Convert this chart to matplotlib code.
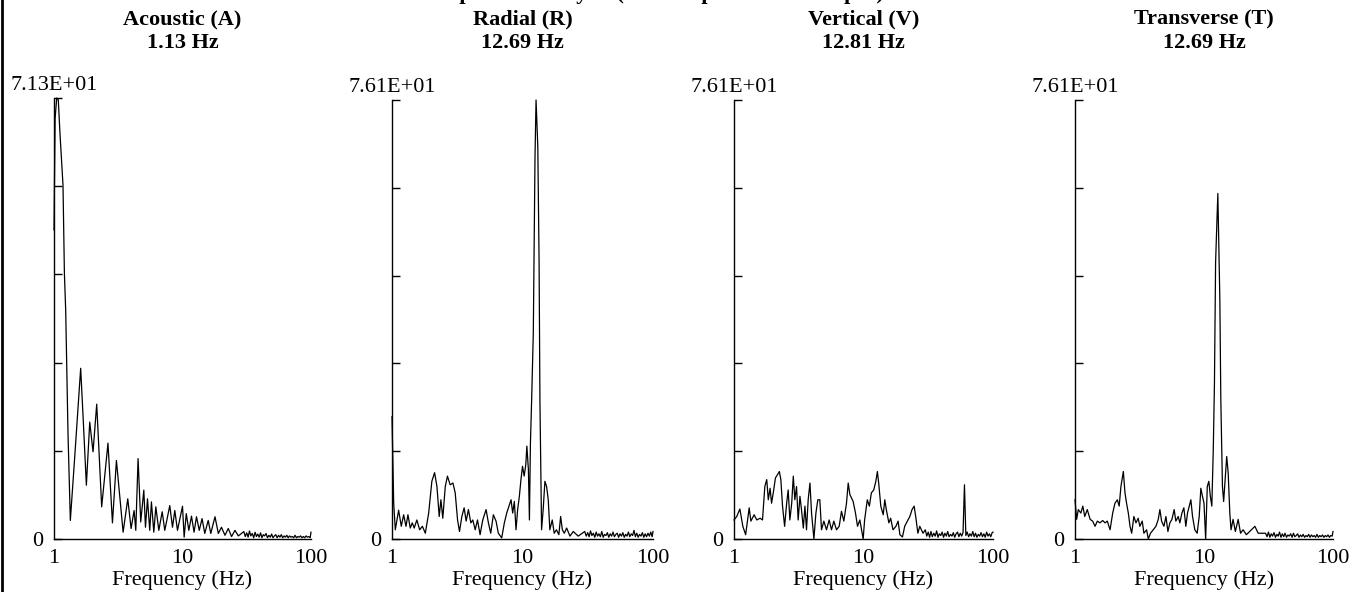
#!/usr/bin/env python3
# -*- coding: utf-8 -*-
# spectra of the four channels, log frequency axis
import numpy as np
import matplotlib
matplotlib.use('Agg')
import matplotlib.pyplot as plt
from matplotlib.lines import Line2D
from matplotlib.ticker import NullLocator

plt.rcParams['font.family'] = 'serif'
plt.rcParams['font.serif'] = ['Liberation Serif', 'DejaVu Serif']
plt.rcParams['font.size'] = 16

# ---- data ----
titles = ['Acoustic (A)', 'Radial (R)', 'Vertical (V)', 'Transverse (T)']
peak_labels = ['1.13 Hz', '12.69 Hz', '12.81 Hz', '12.69 Hz']
y_max = [71.3, 76.1, 76.1, 76.1]
y_top_labels = ['7.13E+01', '7.61E+01', '7.61E+01', '7.61E+01']
x_ticks = [1, 10, 100]
x_tick_labels = ['1', '10', '100']

# 1 - ~28 Hz, read point by point
freq_a = [1.0, 1.02, 1.05, 1.08, 1.11, 1.175, 1.205, 1.233, 1.285, 1.34,
          1.45, 1.613, 1.70, 1.786, 1.897, 2.013, 2.15, 2.35, 2.63, 2.85,
          3.06, 3.45, 3.75, 3.98, 4.2, 4.33, 4.51, 4.73, 5.0, 5.15,
          5.34, 5.56, 5.73, 5.98, 6.2, 6.54, 6.95, 7.28, 7.96, 8.36,
          8.71, 9.14, 10.0, 10.3, 10.7, 11.2, 11.75, 12.3, 12.85, 13.5,
          14.2, 14.9, 15.85, 16.6, 17.9, 19.0, 20.1, 21.4, 22.7, 24.1,
          25.6, 27.2]
amp_a = [50, 68, 71.3, 71.0, 66, 57.2, 42.9, 37, 17.1, 3.0,
         13.3, 27.6, 18, 8.7, 18.9, 14.1, 21.8, 5.2, 15.5, 2.6,
         12.7, 1.1, 6.5, 1.7, 4.6, 1.4, 13.0, 2.75, 7.9, 1.9,
         6.5, 1.4, 6.0, 1.1, 5.2, 1.4, 4.4, 1.4, 5.4, 1.9,
         4.6, 1.4, 5.3, 0.3, 4.1, 1.4, 3.7, 1.1, 3.6, 1.4,
         3.3, 0.9, 3.0, 0.9, 3.6, 0.9, 1.9, 0.6, 1.7, 0.4,
         1.4, 0.5]

freq_r = [1.0, 1.03, 1.06, 1.124, 1.178, 1.228, 1.28, 1.325, 1.38, 1.43,
          1.48, 1.55, 1.63, 1.71, 1.80, 1.91, 2.02, 2.12, 2.21, 2.30,
          2.37, 2.45, 2.56, 2.66, 2.79, 2.93, 3.05, 3.18, 3.29, 3.43,
          3.57, 3.70, 3.85, 4.02, 4.16, 4.34, 4.52, 4.73, 4.96, 5.26,
          5.48, 5.71, 5.98, 6.27, 6.53, 6.93, 7.26, 7.57, 7.88, 8.17,
          8.41, 8.66, 8.92, 9.18, 9.46, 9.73, 10.0, 10.3, 10.6, 10.8,
          11.1, 11.3, 11.5, 11.75, 12.1, 12.47, 12.7, 13.1, 13.4, 13.6,
          14.0, 14.4, 14.85, 15.3, 15.75, 16.2, 16.9, 17.5, 18.2, 19.0,
          19.6, 20.2, 20.9, 21.8, 23.1, 24.5, 26.7]
amp_r = [21.2, 6.2, 1.6, 5.0, 2.2, 4.2, 2.2, 4.2, 1.9, 2.8,
         1.9, 3.3, 1.6, 2.2, 1.0, 4.5, 10.0, 11.5, 9.1, 3.9,
         6.8, 3.6, 9.1, 10.9, 9.4, 9.7, 8.0, 3.3, 1.3, 3.9,
         5.4, 3.1, 5.1, 2.8, 3.3, 1.6, 3.3, 0.75, 3.3, 5.1,
         2.8, 1.0, 4.2, 3.1, 1.0, 0.2, 2.8, 4.5, 5.7, 6.8,
         4.5, 6.5, 1.6, 5.1, 7.4, 10.3, 12.6, 10.9, 12.9, 16.1,
         12.0, 3.3, 16.6, 24.1, 35.7, 66.3, 76.1, 68, 48, 24.1,
         1.6, 5.1, 10.0, 9.1, 6.8, 1.6, 3.3, 1.0, 1.6, 0.75,
         3.9, 1.6, 1.0, 1.9, 0.5, 1.3, 0.5]

freq_v = [1.0, 1.05, 1.11, 1.17, 1.23, 1.31, 1.35, 1.43, 1.50, 1.59,
          1.66, 1.73, 1.79, 1.84, 1.90, 1.95, 2.01, 2.09, 2.16, 2.24,
          2.30, 2.37, 2.46, 2.55, 2.62, 2.70, 2.79, 2.87, 2.95, 3.04,
          3.13, 3.23, 3.32, 3.43, 3.53, 3.63, 3.74, 3.86, 3.97, 4.14,
          4.29, 4.44, 4.60, 4.74, 4.94, 5.18, 5.43, 5.66, 5.90, 6.19,
          6.49, 6.76, 7.05, 7.39, 7.62, 7.85, 8.08, 8.32, 8.67, 8.99,
          9.37, 9.66, 9.94, 10.2, 10.7, 11.1, 11.5, 12.0, 12.45, 12.8,
          13.1, 13.6, 14.2, 14.6, 15.0, 15.7, 16.2, 16.9, 17.8, 18.5,
          19.1, 20.0, 20.8, 21.8, 22.8, 23.7, 24.6, 25.3, 26.3, 27.2,
          28.8]
amp_v = [3.3, 3.9, 5.2, 2.2, 0.75, 5.4, 3.1, 4.2, 3.3, 3.6,
         3.3, 9.1, 10.3, 6.8, 8.8, 6.2, 8.0, 10.6, 11.1, 11.7,
         10.3, 5.7, 2.2, 6.2, 8.5, 3.3, 6.2, 10.9, 6.8, 9.1,
         3.3, 7.4, 5.1, 1.9, 5.7, 1.6, 6.8, 9.7, 4.5, 0.0,
         4.5, 6.8, 6.8, 1.6, 3.1, 1.6, 3.3, 1.6, 3.1, 1.6,
         2.2, 4.8, 3.1, 6.2, 9.7, 7.7, 7.1, 6.5, 4.5, 2.2,
         3.3, 1.6, 0.0, 3.3, 6.8, 5.7, 8.0, 8.5, 10.0, 11.7,
         9.7, 5.7, 4.2, 6.8, 5.1, 2.8, 3.6, 1.6, 2.2, 3.1,
         0.75, 0.35, 2.2, 3.1, 3.9, 5.1, 5.7, 3.9, 1.0, 2.2,
         1.0]

freq_t = [1.0, 1.03, 1.06, 1.11, 1.15, 1.19, 1.245, 1.31, 1.37, 1.43,
          1.49, 1.56, 1.64, 1.71, 1.78, 1.87, 1.96, 2.04, 2.13, 2.20,
          2.27, 2.37, 2.44, 2.51, 2.59, 2.67, 2.75, 2.86, 2.97, 3.09,
          3.18, 3.32, 3.42, 3.59, 3.70, 3.85, 4.04, 4.24, 4.42, 4.55,
          4.69, 4.89, 5.07, 5.25, 5.44, 5.64, 5.87, 6.05, 6.31, 6.50,
          6.74, 6.98, 7.23, 7.45, 7.68, 7.91, 8.15, 8.49, 8.85, 9.18,
          9.45, 9.73, 10.0, 10.3, 10.6, 10.9, 11.2, 11.5, 11.8, 12.05,
          12.3, 12.8, 13.27, 13.5, 13.9, 14.2, 14.7, 15.0, 15.4, 15.85,
          16.2, 16.8, 17.5, 18.4, 19.2, 20.1, 21.3, 22.6, 24.8, 26.3]
amp_t = [6.8, 3.4, 5.1, 4.5, 5.7, 3.9, 5.1, 3.4, 3.1, 2.2,
         3.1, 2.8, 3.2, 2.8, 3.1, 1.6, 4.5, 6.2, 6.8, 5.7,
         9.1, 11.7, 8.0, 6.2, 4.5, 2.2, 1.0, 3.9, 2.8, 3.6,
         2.2, 3.1, 1.0, 1.6, 0.0, 1.0, 1.6, 2.2, 3.4, 5.1,
         3.1, 2.2, 3.9, 1.3, 2.8, 3.4, 5.1, 3.1, 3.9, 2.8,
         4.5, 5.4, 2.2, 4.5, 5.7, 6.8, 3.9, 1.6, 1.0, 3.9,
         8.8, 7.4, 6.2, 0.0, 9.1, 10.0, 7.4, 5.7, 15.5, 27.0,
         48.0, 59.9, 41.5, 24.2, 9.1, 6.5, 11.4, 14.3, 11.4, 4.5,
         1.6, 3.4, 1.3, 3.4, 1.0, 1.6, 0.75, 1.3, 2.2, 1.0]

# 30 - 100 Hz noise floor, same frequency grid for all channels
freq_tail = [30.0, 30.8, 31.6, 32.4, 33.2, 34.0, 34.9, 35.8, 36.7, 37.6,
             38.5, 39.5, 40.5, 41.5, 42.5, 43.6, 44.7, 45.8, 47.0, 48.2,
             49.4, 50.6, 51.9, 53.2, 54.5, 55.9, 57.3, 58.7, 60.2, 61.7,
             63.2, 64.8, 66.4, 68.1, 69.8, 71.5, 73.3, 75.1, 77.0, 78.9,
             80.9, 82.9, 85.0, 87.1, 89.3, 91.5, 93.8, 96.1, 98.5, 100]
tail_a = [1.2, 0.4, 1.0, 0.3, 1.3, 0.5, 0.9, 0.2, 1.1, 0.4,
          0.8, 0.3, 1.0, 0.2, 0.7, 0.5, 0.9, 0.2, 0.6, 0.3,
          0.8, 0.2, 0.5, 0.7, 0.2, 0.6, 0.3, 0.7, 0.2, 0.5,
          0.3, 0.6, 0.2, 0.5, 0.3, 0.4, 0.2, 0.6, 0.2, 0.4,
          0.3, 0.5, 0.2, 0.4, 0.2, 0.5, 0.3, 0.4, 0.2, 1.1]
tail_r = [1.3, 0.5, 1.1, 0.4, 1.4, 0.6, 1.0, 0.3, 1.2, 0.5,
          0.9, 0.4, 1.3, 0.3, 0.8, 0.6, 1.1, 0.3, 0.9, 0.5,
          1.2, 0.4, 0.8, 1.0, 0.3, 0.9, 0.5, 1.1, 0.3, 0.8,
          0.5, 1.2, 0.4, 0.9, 0.6, 1.5, 0.4, 1.0, 0.3, 0.8,
          0.5, 1.1, 0.3, 0.9, 0.4, 1.0, 0.5, 1.2, 0.4, 1.3]
tail_v = [1.6, 0.5, 1.2, 0.3, 1.3, 0.4, 1.0, 0.5, 1.4, 0.3,
          0.9, 0.6, 1.2, 0.3, 1.0, 0.5, 1.3, 0.4, 0.8, 0.5,
          1.1, 0.3, 0.9, 1.2, 0.4, 1.0, 0.5, 1.1, 9.4, 0.6,
          1.2, 0.4, 0.9, 0.5, 1.3, 0.4, 1.0, 0.3, 0.8, 0.5,
          1.1, 0.4, 0.9, 0.3, 1.2, 0.5, 0.9, 0.4, 1.1, 1.2]
tail_t = [1.0, 0.4, 1.2, 0.3, 0.9, 0.5, 1.1, 0.3, 0.8, 0.5,
          1.2, 0.3, 0.9, 0.4, 1.0, 0.3, 0.7, 0.5, 0.9, 0.3,
          1.0, 0.4, 0.6, 0.9, 0.3, 0.7, 0.4, 0.8, 0.3, 0.6,
          0.4, 0.8, 0.3, 0.7, 0.4, 0.6, 0.3, 0.8, 0.3, 0.6,
          0.4, 0.7, 0.3, 0.6, 0.4, 0.7, 0.3, 0.6, 0.5, 1.3]

freqs = [freq_a + freq_tail, freq_r + freq_tail, freq_v + freq_tail, freq_t + freq_tail]
amps = [amp_a + tail_a, amp_r + tail_r, amp_v + tail_v, amp_t + tail_t]

# ---- layout in pixels (figure is 1358 x 592) ----
W, H = 1358, 592
ax_left = [54, 392, 734, 1075]
ax_right = [311, 653, 993, 1333]
ax_top = [98, 100, 100, 100]
ax_bottom = 539


def draw_panel(i):
    l, r, t = ax_left[i], ax_right[i], ax_top[i]
    ax = fig.add_axes([l / W, (H - ax_bottom) / H, (r - l) / W, (ax_bottom - t) / H])
    ax.plot(freqs[i], amps[i], color='black', lw=0.9, clip_on=False)
    ax.set_xscale('log')
    ax.set_xlim(1, 100)
    ax.set_ylim(0, y_max[i])
    for s in ['top', 'right']:
        ax.spines[s].set_visible(False)
    for s in ['left', 'bottom']:
        ax.spines[s].set_linewidth(1.0)
    ax.set_xticks(x_ticks)
    ax.set_xticklabels(x_tick_labels)
    ax.xaxis.set_minor_locator(NullLocator())
    ax.tick_params(axis='x', length=0, pad=7)
    ax.set_yticks(np.linspace(0, y_max[i], 6))
    ax.set_yticklabels(['0', '', '', '', '', ''])
    ax.tick_params(axis='y', direction='in', length=6, width=1.0, pad=8)
    ax.set_xlabel('Frequency (Hz)', labelpad=2)
    ax.annotate(y_top_labels[i], xy=(0, 1), xycoords='axes fraction',
                xytext=(0, 2), textcoords='offset points', ha='center', va='bottom')
    cx = (l + r) / 2 / W
    fig.text(cx, 1 - 19 / H, titles[i], ha='center', va='center', weight='bold')
    fig.text(cx, 1 - 43 / H, peak_labels[i], ha='center', va='center', weight='bold')
    return ax


fig = plt.figure(figsize=(W / 100, H / 100), dpi=100)
for k in range(4):
    draw_panel(k)

# title line cut off by the top edge of the page (only descenders show)
fig.text(0.49, 1 + 1 / H, 'Spectral Analysis (Deck Top Ambient Output)',
         ha='center', va='baseline', weight='bold')
# page border on the left
fig.add_artist(Line2D([0.0018, 0.0018], [0, 1], transform=fig.transFigure,
                      color='black', lw=2))

fig.savefig('out.png', dpi=100)
